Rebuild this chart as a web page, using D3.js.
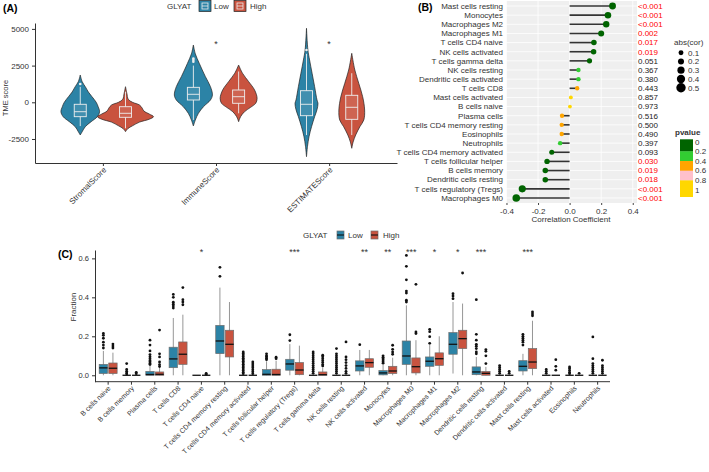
<!DOCTYPE html>
<html>
<head>
<meta charset="utf-8">
<script src="https://cdn.jsdelivr.net/npm/d3@7"></script>
<style>
  body { margin: 0; background: #fff; }
  svg { font-family: "Liberation Sans", Arial, sans-serif; }
</style>
</head>
<body>
<div id="chart"></div>
<script>
// ---------- panel A data ----------
const scoreNames = ["StromalScore", "ImmuneScore", "ESTIMATEScore"];
const scoreSig = ["", "*", "*"];
// violin outlines: [score, relative density]
const violinLow = [
  [[1860,0],[1400,.07],[1063,.18],[700,.29],[380,.42],[0,.57],[-300,.64],[-640,.69],[-980,.61],[-1320,.39],[-1660,.18],[-2000,.07],[-2227,0]],
  [[3904,0],[3300,.07],[2657,.21],[1745,.43],[1063,.61],[497,.68],[157,.61],[-300,.36],[-750,.18],[-1206,.07],[-1615,0]],
  [[5041,0],[3563,.05],[2882,.11],[1976,.2],[1063,.29],[157,.375],[-68,.41],[-500,.375],[-980,.29],[-1662,.18],[-2343,.09],[-3000,.036],[-3706,0]]
];
const violinHigh = [
  [[1063,0],[600,.05],[200,.1],[0,.25],[-184,.5],[-409,.6],[-600,.66],[-800,.85],[-980,1],[-1150,.85],[-1350,.5],[-1600,.25],[-1800,.08],[-2000,0]],
  [[2541,0],[1976,.14],[1404,.36],[838,.57],[273,.66],[-68,.61],[-341,.43],[-640,.21],[-980,.07],[-1320,0]],
  [[3338,0],[2200,.11],[1294,.25],[382,.39],[-525,.46],[-1206,.43],[-1662,.29],[-2228,.14],[-2700,.05],[-3133,0]]
];
// [lower whisker, q1, median, q3, upper whisker]
const scoreBoxLow = [[-1620,-980,-640,-136,1050],[-1200,157,545,1020,2500],[-2230,-913,-136,790,3300]];
const scoreBoxHigh = [[-1770,-1022,-750,-300,720],[-750,-68,382,838,2100],[-2230,-1160,-341,477,1980]];
const scoreOutLow = [[1250],[2760,2880,2980],[3560]];
const scoreOutHigh = [[],[],[]];

// ---------- panel B data ----------
const corNames = ["Mast cells resting","Monocytes","Macrophages M2","Macrophages M1","T cells CD4 naive",
  "NK cells activated","T cells gamma delta","NK cells resting","Dendritic cells activated","T cells CD8",
  "Mast cells activated","B cells naive","Plasma cells","T cells CD4 memory resting","Eosinophils",
  "Neutrophils","T cells CD4 memory activated","T cells follicular helper","B cells memory",
  "Dendritic cells resting","T cells regulatory (Tregs)","Macrophages M0"];
const corValues = [0.272,0.243,0.232,0.200,0.154,0.152,0.126,0.056,0.056,0.048,0.008,0.002,
  -0.048,-0.050,-0.050,-0.060,-0.113,-0.143,-0.154,-0.154,-0.300,-0.338];
const pValues = [0.0005,0.0005,0.0005,0.002,0.017,0.019,0.051,0.367,0.380,0.443,0.857,0.973,
  0.516,0.500,0.490,0.397,0.093,0.030,0.019,0.018,0.0005,0.0005];
const pLabels = ["<0.001","<0.001","<0.001","0.002","0.017","0.019","0.051","0.367","0.380","0.443","0.857","0.973",
  "0.516","0.500","0.490","0.397","0.093","0.030","0.019","0.018","<0.001","<0.001"];
const sizeBreaks = [0.1, 0.2, 0.3, 0.4, 0.5];
const pBreaks = [0, 0.2, 0.4, 0.6, 0.8, 1];
const pColors = ["#006400", "#32CD32", "#FFA500", "#FFC0CB", "#FFD700"];

// ---------- panel C data ----------
const cellNames = ["B cells naive","B cells memory","Plasma cells","T cells CD8","T cells CD4 naive",
  "T cells CD4 memory resting","T cells CD4 memory activated","T cells follicular helper",
  "T cells regulatory (Tregs)","T cells gamma delta","NK cells resting","NK cells activated","Monocytes",
  "Macrophages M0","Macrophages M1","Macrophages M2","Dendritic cells resting","Dendritic cells activated",
  "Mast cells resting","Mast cells activated","Eosinophils","Neutrophils"];
const cellSig = ["","","","","*","","","","***","","","**","**","***","*","*","***","","***","","",""];
const fracLow = [
  [0,0.009,0.038,0.056,0.125],[0,0,0,0,0],[0,0,0.004,0.02,0.048],[0,0.039,0.084,0.144,0.294],[0,0,0,0,0],
  [0,0.111,0.176,0.256,0.45],[0,0,0,0,0],[0,0,0.005,0.029,0.072],[0,0.026,0.058,0.082,0.16],[0,0,0,0,0],
  [0,0,0,0,0],[0,0.022,0.048,0.074,0.13],[0,0.002,0.012,0.024,0.055],[0,0.056,0.099,0.176,0.359],
  [0,0.046,0.072,0.094,0.155],[0.009,0.108,0.159,0.219,0.376],[0,0.003,0.017,0.043,0.094],[0,0,0,0,0],
  [0,0.022,0.046,0.075,0.11],[0,0,0,0,0],[0,0,0,0,0],[0,0,0,0,0]
];
const fracHigh = [
  [0,0.009,0.036,0.063,0.116],[0,0,0,0,0],[0,0,0.005,0.017,0.04],[0,0.056,0.108,0.171,0.311],[0,0,0,0,0],
  [0,0.094,0.159,0.231,0.376],[0,0,0,0,0],[0,0,0.004,0.031,0.075],[0,0.003,0.027,0.065,0.152],[0,0,0.003,0.017,0.04],
  [0,0,0,0,0],[0,0.041,0.065,0.085,0.13],[0,0.009,0.022,0.046,0.09],[0,0.012,0.044,0.089,0.18],
  [0,0.051,0.085,0.115,0.2],[0,0.137,0.188,0.231,0.368],[0,0,0.01,0.02,0.043],[0,0,0,0,0],
  [0,0.034,0.068,0.137,0.28],[0,0,0,0,0],[0,0,0,0,0],[0,0,0,0,0]
];
const fracOutLow = [
  [0.215,0.205,0.19,0.17,0.155,0.14],[0.06,0.03,0.02,0.012,0.006],
  [0.18,0.155,0.125,0.106,0.095,0.085,0.075,0.068,0.06,0.055],[0.415,0.40,0.375,0.365,0.355,0.345],[],
  [0.554,0.508],[0.12,0.112,0.104,0.096,0.088,0.08,0.072,0.064,0.056,0.048,0.04,0.032,0.024,0.016,0.008],
  [0.11,0.1,0.095,0.088,0.08],[0.208,0.178],[0.12,0.11,0.1,0.09,0.08,0.07,0.06,0.05,0.04,0.03,0.02,0.01],
  [0.137,0.11,0.1,0.09,0.08,0.07,0.06,0.05,0.04,0.03,0.02,0.01],[0.157],[0.1,0.092,0.085,0.078,0.07,0.062],
  [0.615,0.559,0.49,0.432,0.422,0.385,0.376],[0.236,0.224,0.198,0.164],[0.419,0.407,0.393],
  [0.388,0.21,0.18,0.159,0.149,0.137,0.12,0.11],[0.05,0.04,0.03,0.02,0.01],[0.21,0.2,0.19,0.18,0.17,0.155],
  [0.03,0.02,0.01],[0.043,0.035,0.025,0.015,0.008],[0.197,0.085,0.06,0.05,0.04,0.03,0.02,0.01]
];
const fracOutHigh = [
  [0.16,0.15,0.14],[0.015,0.008],[0.232,0.11,0.094,0.068,0.055,0.045],[0.45,0.388,0.376,0.362],[0.01,0.005],
  [],[0.068,0.058,0.048,0.038,0.028,0.018,0.008],[0.093,0.085],[],[0.103,0.095,0.085,0.075,0.065,0.055,0.048],
  [0.171,0.094,0.08,0.065,0.05,0.035,0.02,0.01],[],[0.154,0.133,0.12,0.108],[0.467,0.222,0.214],[],[0.525],
  [0.132,0.123,0.1,0.06],[0.02,0.01],[0.325,0.315,0.305],[0.08,0.046,0.026],[0.01],[0.077,0.05,0.04,0.03,0.02,0.01]
];

const lowCol = "#2c83a6";
const highCol = "#c9533f";
const textCol = "#333";

const svg = d3.select("#chart").append("svg")
  .attr("width", 709)
  .attr("height", 472)
  .attr("viewBox", [0, 0, 709, 472]);

// rotated 45deg tick labels, right end at the tick
const tiltLabels = (g, size) => g.selectAll(".tick text")
  .attr("font-size", size).attr("fill", textCol)
  .attr("x", 0).attr("y", 0)
  .attr("text-anchor", "end")
  .attr("dy", "0.6em")
  .attr("transform", "translate(0,4) rotate(-45)");

// =============== (A) violins ===============
const ax = d3.scalePoint(scoreNames, [35, 397]).padding(0.6);
const ay = d3.scaleLinear([-4135, 5402], [163, 23]);
const dens = d3.scaleLinear([0, 1], [0, 28]);
const dodgeA = ax.step() * 0.2;

svg.append("g")
  .attr("transform", "translate(35,0)")
  .call(d3.axisLeft(ay).tickValues([-2500, 0, 2500, 5000]).tickSize(3).tickSizeOuter(0).tickFormat(d => String(d)))
  .call(g => g.selectAll("text").attr("font-size", 8).attr("fill", textCol))
  .call(g => g.selectAll("line,path").attr("stroke", textCol));

svg.append("g")
  .attr("transform", "translate(0,163)")
  .call(d3.axisBottom(ax).tickSize(3).tickSizeOuter(0))
  .call(g => g.selectAll("line,path").attr("stroke", textCol))
  .call(g => tiltLabels(g, 8));

svg.append("text").attr("x", 3).attr("y", 12).attr("font-size", 10.5).attr("font-weight", "bold").text("(A)");
svg.append("text")
  .attr("transform", "translate(8,98) rotate(-90)")
  .attr("text-anchor", "middle").attr("font-size", 7.5).attr("fill", textCol)
  .text("TME score");

function drawViolin(profile, box, outs, cx, col) {
  const area = d3.area()
    .y(d => ay(d[0]))
    .x0(d => cx - dens(d[1]))
    .x1(d => cx + dens(d[1]))
    .curve(d3.curveCatmullRom);
  svg.append("path").attr("d", area(profile))
    .attr("fill", col).attr("stroke", "#222").attr("stroke-width", 0.7);
  const g = svg.append("g").attr("stroke", "#eeeeee").attr("stroke-width", 0.9);
  g.append("line").attr("x1", cx).attr("x2", cx).attr("y1", ay(box[0])).attr("y2", ay(box[1]));
  g.append("line").attr("x1", cx).attr("x2", cx).attr("y1", ay(box[3])).attr("y2", ay(box[4]));
  g.append("rect").attr("x", cx - 6).attr("width", 12)
    .attr("y", ay(box[3])).attr("height", ay(box[1]) - ay(box[3]))
    .attr("fill", "#ffffff").attr("fill-opacity", 0.1);
  g.append("line").attr("x1", cx - 6).attr("x2", cx + 6).attr("y1", ay(box[2])).attr("y2", ay(box[2]));
  svg.append("g").selectAll("circle").data(outs).join("circle")
    .attr("cx", cx).attr("cy", d => ay(d)).attr("r", 1.3).attr("fill", "#eeeeee");
}

scoreNames.forEach((s, i) => {
  drawViolin(violinLow[i], scoreBoxLow[i], scoreOutLow[i], ax(s) - dodgeA, lowCol);
  drawViolin(violinHigh[i], scoreBoxHigh[i], scoreOutHigh[i], ax(s) + dodgeA, highCol);
});

svg.append("g").selectAll("text").data(scoreNames).join("text")
  .attr("x", d => ax(d)).attr("y", 47)
  .attr("text-anchor", "middle").attr("font-size", 9).attr("fill", textCol)
  .text((d, i) => scoreSig[i]);

// legend A
function violinKey(x, col) {
  svg.append("rect").attr("x", x).attr("y", 0.5).attr("width", 12).attr("height", 11)
    .attr("fill", col).attr("stroke", "#222").attr("stroke-width", 0.7);
  svg.append("rect").attr("x", x + 3).attr("y", 3).attr("width", 6).attr("height", 6)
    .attr("fill", "none").attr("stroke", "#eee").attr("stroke-width", 0.8);
  svg.append("line").attr("x1", x + 3).attr("x2", x + 9).attr("y1", 6).attr("y2", 6)
    .attr("stroke", "#eee").attr("stroke-width", 0.8);
}
svg.append("text").attr("x", 167).attr("y", 9).attr("font-size", 8).attr("fill", textCol).text("GLYAT");
violinKey(199, lowCol);
svg.append("text").attr("x", 214).attr("y", 9).attr("font-size", 8).attr("fill", textCol).text("Low");
violinKey(234, highCol);
svg.append("text").attr("x", 250).attr("y", 9).attr("font-size", 8).attr("fill", textCol).text("High");

// =============== (B) lollipop ===============
const bx = d3.scaleLinear([-0.403, 0.427], [506, 637]);
const by = d3.scalePoint(corNames, [1, 203]).padding(0.55);
const bSize = d3.scaleLinear([0, 0.5], [1.9, 4.7]);
const bColor = d3.scaleThreshold([0.2, 0.4, 0.6, 0.8], pColors);

svg.append("rect").attr("x", 506).attr("y", 1).attr("width", 131).attr("height", 202).attr("fill", "#efefef");
svg.append("g").selectAll("line").data([-0.4, -0.2, 0, 0.2, 0.4]).join("line")
  .attr("x1", d => bx(d)).attr("x2", d => bx(d)).attr("y1", 1).attr("y2", 203)
  .attr("stroke", "#fff").attr("stroke-width", 0.8);
svg.append("g").selectAll("line").data(corNames).join("line")
  .attr("x1", 506).attr("x2", 637).attr("y1", d => by(d)).attr("y2", d => by(d))
  .attr("stroke", "#fff").attr("stroke-width", 0.8);

svg.append("g").selectAll("line").data(corValues).join("line")
  .attr("x1", bx(0)).attr("x2", d => bx(d))
  .attr("y1", (d, i) => by(corNames[i])).attr("y2", (d, i) => by(corNames[i]))
  .attr("stroke", "#333").attr("stroke-width", 1.6);
svg.append("g").selectAll("circle").data(corValues).join("circle")
  .attr("cx", d => bx(d)).attr("cy", (d, i) => by(corNames[i]))
  .attr("r", d => bSize(Math.abs(d)))
  .attr("fill", (d, i) => bColor(pValues[i]));

svg.append("g").selectAll("text").data(corNames).join("text")
  .attr("x", 503).attr("y", d => by(d)).attr("dy", "0.35em")
  .attr("text-anchor", "end").attr("font-size", 8).attr("fill", textCol)
  .text(d => d);
svg.append("g").selectAll("text").data(pLabels).join("text")
  .attr("x", 638).attr("y", (d, i) => by(corNames[i])).attr("dy", "0.35em")
  .attr("font-size", 8).attr("fill", (d, i) => pValues[i] < 0.05 ? "#ff0000" : "#222")
  .text(d => d);

svg.append("g")
  .attr("transform", "translate(0,203)")
  .call(d3.axisBottom(bx).tickValues([-0.4, -0.2, 0, 0.2, 0.4]).tickSize(2).tickFormat(d => d.toFixed(1)))
  .call(g => g.select(".domain").remove())
  .call(g => g.selectAll("line").attr("stroke", "#444"))
  .call(g => g.selectAll("text").attr("font-size", 8).attr("fill", textCol));
svg.append("text").attr("x", 571).attr("y", 222).attr("text-anchor", "middle")
  .attr("font-size", 8).attr("fill", textCol).text("Correlation Coefficient");
svg.append("text").attr("x", 418).attr("y", 11).attr("font-size", 10.5).attr("font-weight", "bold").text("(B)");

// size legend
svg.append("text").attr("x", 674).attr("y", 45).attr("font-size", 8).attr("fill", textCol).text("abs(cor)");
const sizeY = d3.scalePoint(sizeBreaks, [52.7, 87.7]);
svg.append("g").selectAll("circle").data(sizeBreaks).join("circle")
  .attr("cx", 681).attr("cy", d => sizeY(d)).attr("r", d => bSize(d)).attr("fill", "#000");
svg.append("g").selectAll("text").data(sizeBreaks).join("text")
  .attr("x", 688).attr("y", d => sizeY(d)).attr("dy", "0.35em")
  .attr("font-size", 8).attr("fill", textCol).text(d => d.toFixed(1));

// pvalue colour bar
svg.append("text").attr("x", 675).attr("y", 135).attr("font-size", 8).attr("font-weight", "bold").attr("fill", textCol).text("pvalue");
const pY = d3.scaleLinear([0, 1], [141.7, 190]);
const binEdges = [139.3, pY(0.2), pY(0.4), pY(0.6), pY(0.8), 196.7];
svg.append("g").selectAll("rect").data(pColors).join("rect")
  .attr("x", 680).attr("width", 13)
  .attr("y", (d, i) => binEdges[i]).attr("height", (d, i) => binEdges[i + 1] - binEdges[i] + 0.3)
  .attr("fill", d => d);
svg.append("g").selectAll("text").data(pBreaks).join("text")
  .attr("x", 695).attr("y", d => pY(d)).attr("dy", "0.35em")
  .attr("font-size", 8).attr("fill", textCol).text(d => String(d));

// =============== (C) boxplots ===============
const cx = d3.scaleBand(cellNames, [96.5, 609.3]);
const cy = d3.scaleLinear([-0.033, 0.643], [381.7, 250]);
const bw = cx.bandwidth();
const boxW = bw * 0.36;
const boxOff = bw * 0.205;

svg.append("g")
  .attr("transform", "translate(95,0)")
  .call(d3.axisLeft(cy).tickValues([0, 0.2, 0.4, 0.6]).tickSize(3).tickSizeOuter(0).tickFormat(d => d.toFixed(1)))
  .call(g => g.selectAll("line,path").attr("stroke", textCol))
  .call(g => g.selectAll("text").attr("font-size", 7.5).attr("fill", textCol));

svg.append("g")
  .attr("transform", "translate(0,381.7)")
  .call(d3.axisBottom(cx).tickSize(3).tickSizeOuter(0))
  .call(g => g.select(".domain").remove())
  .call(g => g.append("line").attr("x1", 95).attr("x2", 610).attr("stroke", textCol))
  .call(g => g.selectAll("line").attr("stroke", textCol))
  .call(g => tiltLabels(g, 7));

svg.append("text").attr("x", 58).attr("y", 258).attr("font-size", 10.5).attr("font-weight", "bold").text("(C)");
svg.append("text")
  .attr("transform", "translate(76,307) rotate(-90)")
  .attr("text-anchor", "middle").attr("font-size", 8).attr("fill", textCol)
  .text("Fraction");

function drawBox(st, outs, x, col) {
  const g = svg.append("g");
  g.append("line").attr("x1", x).attr("x2", x).attr("y1", cy(st[0])).attr("y2", cy(st[4]))
    .attr("stroke", "#8a8a8a").attr("stroke-width", 0.9);
  g.append("rect").attr("x", x - boxW / 2).attr("width", boxW)
    .attr("y", cy(st[3])).attr("height", cy(st[1]) - cy(st[3]))
    .attr("fill", col).attr("stroke", "#6e6e6e").attr("stroke-width", 0.7);
  g.append("line").attr("x1", x - boxW / 2).attr("x2", x + boxW / 2).attr("y1", cy(st[2])).attr("y2", cy(st[2]))
    .attr("stroke", "#111").attr("stroke-width", 1.3);
  g.selectAll("circle").data(outs).join("circle")
    .attr("cx", x).attr("cy", d => cy(d)).attr("r", 1.4).attr("fill", "#111");
}

cellNames.forEach((c, i) => {
  const mid = cx(c) + bw / 2;
  drawBox(fracLow[i], fracOutLow[i], mid - boxOff, lowCol);
  drawBox(fracHigh[i], fracOutHigh[i], mid + boxOff, highCol);
});

svg.append("g").selectAll("text").data(cellNames).join("text")
  .attr("x", d => cx(d) + bw / 2).attr("y", 254.5)
  .attr("text-anchor", "middle").attr("font-size", 9).attr("fill", textCol)
  .text((d, i) => cellSig[i]);

// legend C
function boxKey(x, col) {
  svg.append("rect").attr("x", x).attr("y", 231).attr("width", 7).attr("height", 8)
    .attr("fill", col).attr("stroke", "#6e6e6e").attr("stroke-width", 0.7);
  svg.append("line").attr("x1", x).attr("x2", x + 7).attr("y1", 235).attr("y2", 235)
    .attr("stroke", "#111").attr("stroke-width", 1.1);
}
svg.append("text").attr("x", 303).attr("y", 238).attr("font-size", 8).attr("fill", textCol).text("GLYAT");
boxKey(337, lowCol);
svg.append("text").attr("x", 348).attr("y", 238).attr("font-size", 8).attr("fill", textCol).text("Low");
boxKey(371, highCol);
svg.append("text").attr("x", 383).attr("y", 238).attr("font-size", 8).attr("fill", textCol).text("High");
</script>
</body>
</html>
